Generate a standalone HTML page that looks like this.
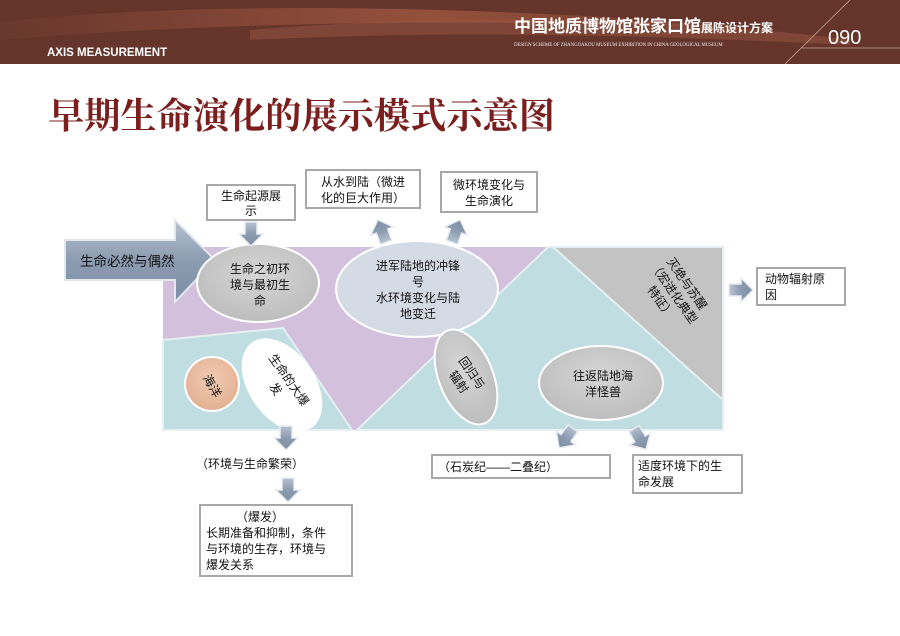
<!DOCTYPE html>
<html><head><meta charset="utf-8"><style>
html,body{margin:0;padding:0;background:#fff;}
svg{display:block;font-family:"Liberation Sans","Noto Sans CJK SC",sans-serif;}
</style></head><body>
<svg width="900" height="636" viewBox="0 0 900 636" xmlns="http://www.w3.org/2000/svg">
<defs>
<linearGradient id="hd" x1="0" x2="1" y1="0" y2="0">
<stop offset="0" stop-color="#6a382e"/><stop offset="0.55" stop-color="#a0573f"/><stop offset="1" stop-color="#6a382e"/>
</linearGradient>
<linearGradient id="arw" x1="0" x2="0" y1="0" y2="1">
<stop offset="0" stop-color="#b6c2d0"/><stop offset="0.5" stop-color="#8b9bb0"/><stop offset="1" stop-color="#7e8ea4"/>
</linearGradient>
<radialGradient id="gr" cx="0.5" cy="0.4" r="0.6"><stop offset="0" stop-color="#d6d6d6"/><stop offset="1" stop-color="#bdbdbd"/></radialGradient>
<radialGradient id="or" cx="0.5" cy="0.4" r="0.6"><stop offset="0" stop-color="#f0cbb2"/><stop offset="1" stop-color="#e3b092"/></radialGradient>
<g id="sa"><path d="M-6,-12 H6 V0 H12 L0,12 L-12,0 H-6 Z" fill="url(#arw)" stroke="#e8ecf0" stroke-width="1.5"/></g>
</defs>
<rect x="0" y="0" width="900" height="64" fill="#65352c"/>
<path d="M0,22 C200,0 500,5 780,30 C600,22 300,15 0,40 Z" fill="url(#hd)" opacity="0.8"/>
<path d="M250,30 C500,10 700,20 850,40 L850,45 C650,35 450,30 250,40 Z" fill="#9a5540" opacity="0.5"/>
<line x1="785" y1="64" x2="850" y2="0" stroke="#c9a79c" stroke-width="0.8"/>
<line x1="802" y1="48" x2="900" y2="48" stroke="#c9a79c" stroke-width="0.8"/>
<text x="47" y="56" fill="#fff" font-size="11.5" font-weight="bold">AXIS MEASUREMENT</text>
<text x="514" y="32" fill="#fff" font-size="17" font-weight="bold">中国地质博物馆张家口馆<tspan font-size="12">展陈设计方案</tspan></text>
<text x="514" y="46" fill="#eee" font-size="4.8" font-family="Liberation Serif,serif">DESIGN SCHEME OF ZHANGJIAKOU MUSEUM EXHIBITION IN CHINA GEOLOGICAL MUSEUM</text>
<text x="828" y="44" fill="#fff" font-size="20">090</text>
<text x="48" y="128" fill="#7a1e1e" font-size="36" font-weight="bold" textLength="507" lengthAdjust="spacingAndGlyphs" font-family="Liberation Serif,'Noto Serif CJK SC',serif">早期生命演化的展示模式示意图</text>
<rect x="163" y="247" width="560" height="183" fill="#d2c0dd"/>
<polygon points="163,340 283,328 352,430 163,430" fill="#c0dde1" stroke="#e6f0f2" stroke-width="2"/>
<polygon points="548,247 357,430 723,430 723,247" fill="#c0dde1" stroke="#e6f0f2" stroke-width="2"/>
<polygon points="553,247 723,247 723,400" fill="#c3c3c3" stroke="#e6f0f2" stroke-width="2"/>
<path d="M65,240 H175 V220 L215,260 L175,302 V280 H65 Z" fill="url(#arw)" stroke="#e2e7ec" stroke-width="2"/>
<text x="80" y="266" font-size="13.5" fill="#111">生命必然与偶然</text>
<ellipse cx="258" cy="283" rx="61" ry="39" fill="url(#gr)" stroke="#fff" stroke-width="2"/>
<text font-size="12" text-anchor="middle" fill="#111"><tspan x="260" y="273">生命之初环</tspan><tspan x="260" y="289">境与最初生</tspan><tspan x="260" y="305">命</tspan></text>
<ellipse cx="417" cy="289" rx="81" ry="48" fill="#d5dbe4" stroke="#fff" stroke-width="2"/>
<text font-size="12" text-anchor="middle" fill="#111"><tspan x="418" y="270">进军陆地的冲锋</tspan><tspan x="418" y="286">号</tspan><tspan x="418" y="302">水环境变化与陆</tspan><tspan x="418" y="318">地变迁</tspan></text>
<circle cx="212" cy="384" r="27" fill="url(#or)" stroke="#fff" stroke-width="2"/>
<text transform="translate(212,386) rotate(60)" font-size="12" text-anchor="middle" fill="#111" dy="4">海洋</text>
<ellipse cx="282" cy="385" rx="52" ry="33" transform="rotate(55 282 385)" fill="#fff"/>
<g transform="translate(283,384) rotate(55)" font-size="12" text-anchor="middle" fill="#111"><text y="-3">生命的大爆</text><text y="13">发</text></g>
<ellipse cx="466" cy="377" rx="27" ry="50" transform="rotate(-22 466 377)" fill="url(#gr)" stroke="#fff" stroke-width="2"/>
<g transform="translate(466,377) rotate(55)" font-size="12" text-anchor="middle" fill="#111"><text y="-3">回归与</text><text y="13">辐射</text></g>
<ellipse cx="601" cy="383" rx="62" ry="37" fill="url(#gr)" stroke="#fff" stroke-width="2"/>
<text font-size="12" text-anchor="middle" fill="#111"><tspan x="603" y="380">往返陆地海</tspan><tspan x="603" y="396">洋怪兽</tspan></text>
<g transform="translate(672,294) rotate(55)" font-size="12" text-anchor="middle" fill="#111"><text y="-14">灭绝与苏醒</text><text y="2">（宏进化典型</text><text y="18">特征）</text></g>
<g fill="#fff" stroke="#a8a8a8" stroke-width="2">
<rect x="207" y="185" width="88" height="35"/>
<rect x="306" y="170" width="114" height="38"/>
<rect x="441" y="172" width="96" height="40"/>
<rect x="757" y="268" width="88" height="37"/>
<rect x="432" y="455" width="178" height="23"/>
<rect x="633" y="455" width="109" height="38"/>
<rect x="200" y="505" width="152" height="71"/>
</g>
<g font-size="12" fill="#111">
<text text-anchor="middle"><tspan x="251" y="200">生命起源展</tspan><tspan x="251" y="215">示</tspan></text>
<text text-anchor="middle"><tspan x="363" y="186">从水到陆（微进</tspan><tspan x="363" y="202">化的巨大作用）</tspan></text>
<text text-anchor="middle"><tspan x="489" y="189">微环境变化与</tspan><tspan x="489" y="205">生命演化</tspan></text>
<text><tspan x="765" y="283">动物辐射原</tspan><tspan x="765" y="299">因</tspan></text>
<text x="438" y="471">（石炭纪——二叠纪）</text>
<text><tspan x="638" y="470">适度环境下的生</tspan><tspan x="638" y="486">命发展</tspan></text>
<text x="196" y="468">（环境与生命繁荣）</text>
<text><tspan x="236" y="521">（爆发）</tspan><tspan x="206" y="537">长期准备和抑制，条件</tspan><tspan x="206" y="553">与环境的生存，环境与</tspan><tspan x="206" y="569">爆发关系</tspan></text>
</g>
<use href="#sa" transform="translate(251,234)"/>
<use href="#sa" transform="translate(382,231) rotate(160)"/>
<use href="#sa" transform="translate(456,231) rotate(200)"/>
<use href="#sa" transform="translate(741,290) rotate(-90)"/>
<use href="#sa" transform="translate(286,438)"/>
<use href="#sa" transform="translate(288,490)"/>
<use href="#sa" transform="translate(566,438) rotate(35)"/>
<use href="#sa" transform="translate(640,439) rotate(-30)"/>
</svg>
</body></html>
